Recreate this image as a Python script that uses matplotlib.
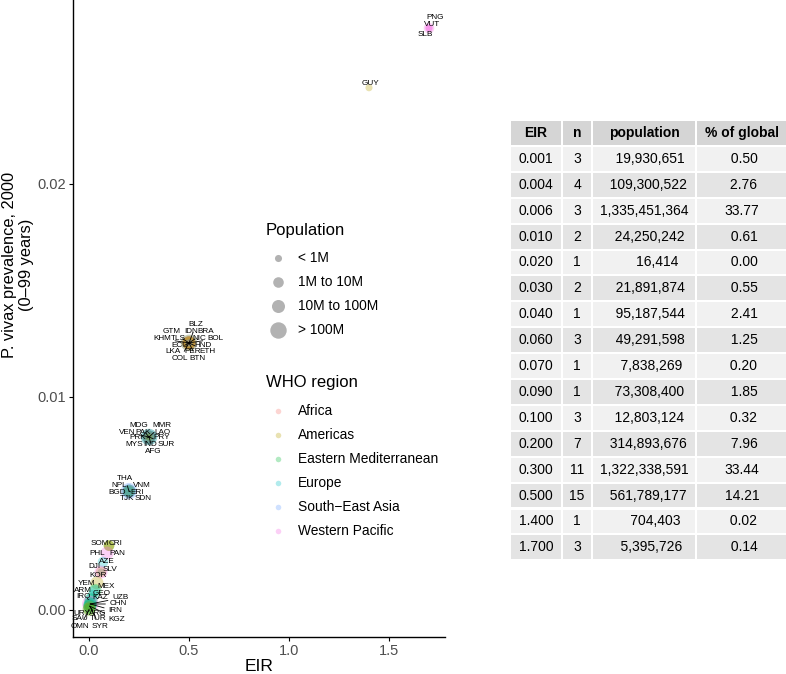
import numpy as np
import matplotlib
matplotlib.use("Agg")
import matplotlib.pyplot as plt
from matplotlib.patches import Rectangle

plt.rcParams['font.family'] = ['Liberation Sans', 'DejaVu Sans']

# --- scatter data: one entry per country ---
iso = ['PNG', 'VUT', 'SLB', 'GUY',
       'BLZ', 'GTM', 'IDN', 'BRA', 'KHM', 'TLS', 'NIC', 'BOL', 'ECU', 'HND', 'LKA', 'PER', 'ETH', 'COL', 'BTN',
       'MDG', 'MMR', 'VEN', 'PAK', 'LAO', 'PRK', 'PRY', 'MYS', 'IND', 'SUR', 'AFG',
       'THA', 'NPL', 'VNM', 'BGD', 'ERI', 'TJK', 'SDN',
       'SOM', 'CRI', 'PAN', 'PHL', 'AZE', 'DJI', 'SLV', 'KOR', 'MEX', 'YEM', 'ARM', 'GEO',
       'IRQ', 'KAZ', 'CHN', 'IRN', 'UZB', 'TUR', 'SYR', 'KGZ', 'URY', 'SAU', 'OMN', 'ARG']
region = ['WP', 'WP', 'WP', 'AM',
          'AM', 'AM', 'SEA', 'AM', 'WP', 'SEA', 'AM', 'AM', 'AM', 'AM', 'SEA', 'AM', 'AF', 'AM', 'SEA',
          'AF', 'SEA', 'AM', 'EM', 'WP', 'SEA', 'AM', 'WP', 'SEA', 'AM', 'EM',
          'SEA', 'SEA', 'WP', 'SEA', 'AF', 'EU', 'EM',
          'EM', 'AM', 'AM', 'WP', 'EU', 'EM', 'AM', 'WP', 'AM', 'EM', 'EU', 'EU',
          'EM', 'EU', 'WP', 'EM', 'EU', 'EU', 'EM', 'EU', 'AM', 'EM', 'EM', 'AM']
eir = [1.7, 1.7, 1.7, 1.4] + [0.5] * 15 + [0.3] * 11 + [0.2] * 7 + \
      [0.1, 0.1, 0.1, 0.09, 0.07, 0.06, 0.06, 0.06, 0.04, 0.03, 0.03, 0.02,
       0.01, 0.01, 0.006, 0.006, 0.006, 0.004, 0.004, 0.004, 0.004, 0.001, 0.001, 0.001]
prev = [0.0273, 0.0273, 0.0273, 0.0245] + [0.01252] * 15 + [0.0081] * 11 + [0.00556] * 7 + \
       [0.0030, 0.0030, 0.0030, 0.00265, 0.00223, 0.00176, 0.00176, 0.00176, 0.00125, 0.0009, 0.0009, 0.00068,
        0.00045, 0.00045, 0.00026, 0.00026, 0.00026, 0.00016, 0.00016, 0.00016, 0.00016, 0.00002, 0.00002, 0.00002]
pop_class = [1, 0, 0, 0,
             0, 2, 3, 3, 2, 0, 1, 1, 2, 1, 2, 2, 2, 2, 0,
             2, 2, 2, 3, 1, 2, 1, 2, 3, 0, 2,
             2, 2, 2, 3, 1, 1, 2,
             1, 1, 1, 2, 1, 0, 1, 2, 2, 2, 1, 1,
             2, 2, 3, 2, 2, 2, 2, 1, 1, 2, 1, 2]

region_names = ['Africa', 'Americas', 'Eastern Mediterranean', 'Europe', 'South\u2212East Asia', 'Western Pacific']
region_keys = ['AF', 'AM', 'EM', 'EU', 'SEA', 'WP']
region_colors = ['#F8766D', '#B79F00', '#00BA38', '#00BFC4', '#619CFF', '#F564E3']
size_labels = ['< 1M', '1M to 10M', '10M to 100M', '> 100M']

# --- table data ---
tab_eir = [0.001, 0.004, 0.006, 0.010, 0.020, 0.030, 0.040, 0.060, 0.070, 0.090, 0.100, 0.200, 0.300, 0.500, 1.400, 1.700]
tab_n = [3, 4, 3, 2, 1, 2, 1, 3, 1, 1, 3, 7, 11, 15, 1, 3]
tab_pop = [19930651, 109300522, 1335451364, 24250242, 16414, 21891874, 95187544, 49291598,
           7838269, 73308400, 12803124, 314893676, 1322338591, 561789177, 704403, 5395726]
tab_pct = [0.50, 2.76, 33.77, 0.61, 0.00, 0.55, 2.41, 1.25, 0.20, 1.85, 0.32, 7.96, 33.44, 14.21, 0.02, 0.14]

# label placement (pixel offsets from point, image y downwards)
label_off = {
    'PNG': (6, -11), 'VUT': (3, -4), 'SLB': (-4, 6), 'GUY': (1, -4),
    'BLZ': (7, -18), 'GTM': (-17, -11), 'IDN': (2, -11), 'BRA': (17, -11), 'KHM': (-27, -4),
    'TLS': (-11, -4), 'NIC': (10, -4), 'BOL': (26, -4), 'ECU': (-9, 3), 'HND': (14, 3),
    'LKA': (-16, 9), 'PER': (4, 9), 'ETH': (18, 9), 'COL': (-9, 16), 'BTN': (8, 16),
    'MDG': (-10, -12), 'MMR': (13, -12), 'VEN': (-22, -5), 'PAK': (-6, -5), 'LAO': (13, -5),
    'PRK': (-11, 0), 'PRY': (13, 0), 'MYS': (-15, 7), 'IND': (1, 7), 'SUR': (17, 7), 'AFG': (4, 14),
    'THA': (-4, -13), 'NPL': (-10, -6), 'VNM': (13, -6), 'BGD': (-12, 1), 'ERI': (8, 1),
    'TJK': (-2, 7), 'SDN': (14, 7),
    'SOM': (-9, -2), 'CRI': (7, -2), 'PAN': (8, 8), 'PHL': (-10, 0), 'AZE': (4, -1),
    'DJI': (-7, -6), 'SLV': (9, -3), 'KOR': (-3, 3), 'MEX': (9, 4), 'YEM': (-8, -7),
    'ARM': (-12, 0), 'GEO': (9, -2), 'IRQ': (-8, -3), 'KAZ': (9, -2),
    'UZB': (30, -6), 'CHN': (28, 0), 'IRN': (25, 7), 'URY': (-8, 7), 'TUR': (8, 12),
    'KGZ': (27, 13), 'SYR': (10, 20), 'SAU': (-9, 9), 'OMN': (-9, 17), 'ARG': (9, 4),
}

W, H = 786, 674
fig = plt.figure(figsize=(W / 100, H / 100), dpi=100)
ax = fig.add_axes([73 / W, 1 - 637 / H, (445 - 73) / W, 637 / H])

sizes = [26, 58, 88, 140]
cmap = dict(zip(region_keys, region_colors))
ax.scatter(eir, prev, s=[sizes[c] for c in pop_class], c=[cmap[r] for r in region],
           alpha=0.3, linewidths=0, zorder=2)

for k, x, y in zip(iso, eir, prev):
    dx, dy = label_off[k]
    arrow = None
    if np.hypot(dx, dy) > 13:
        arrow = dict(arrowstyle='-', lw=0.6, color='black', shrinkA=1, shrinkB=0)
    ax.annotate(k, (x, y), xytext=(dx, -dy), textcoords='offset pixels',
                ha='center', va='center', fontsize=5.9, arrowprops=arrow, zorder=3)

ax.set_xlim(-0.08, 1.78)
ax.set_ylim(-0.00129, 0.02862)
ax.set_xticks([0.0, 0.5, 1.0, 1.5])
ax.set_xticklabels(['0.0', '0.5', '1.0', '1.5'])
ax.set_yticks([0.0, 0.01, 0.02])
ax.set_yticklabels(['0.00', '0.01', '0.02'])
for s in ['top', 'right']:
    ax.spines[s].set_visible(False)
for s in ['left', 'bottom']:
    ax.spines[s].set_linewidth(1.0)
ax.tick_params(length=3, width=0.8, labelsize=10.5, labelcolor='#4d4d4d', pad=2)
ax.set_xlabel('EIR', fontsize=12.5, labelpad=1)

fig.text(18 / W, 1 - 265 / H, 'P. vivax prevalence, 2000\n(0\u201399 years)', rotation=90,
         ha='center', va='center', multialignment='center', fontsize=11.8, linespacing=1.15)

# overlay for legend and table
ov = fig.add_axes([0, 0, 1, 1])
ov.set_xlim(0, W)
ov.set_ylim(H, 0)
ov.axis('off')

ov.text(266, 230, 'Population', fontsize=12, va='center', ha='left')
for i, lab in enumerate(size_labels):
    y = 258 + i * 24
    ov.scatter([278], [y], s=sizes[i], color='black', alpha=0.3, linewidths=0)
    ov.text(298, y, lab, fontsize=9.9, va='center', ha='left')

ov.text(266, 383, 'WHO region', fontsize=12, va='center', ha='left')
for i, (lab, col) in enumerate(zip(region_names, region_colors)):
    y = 411 + i * 24
    ov.scatter([278], [y], s=16, color=col, alpha=0.3, linewidths=0)
    ov.text(298, y, lab, fontsize=9.9, va='center', ha='left')

# table
cols = [(511, 561), (563, 591), (593, 695), (697, 787)]
header = ['EIR', 'n', 'population', '% of global']
rows = [[f'{e:.3f}', f'{n}', f'{p:>13,}', f'{q:5.2f}'] for e, n, p, q in zip(tab_eir, tab_n, tab_pop, tab_pct)]
y0, rh = 121, 25.9
for r, row in enumerate([header] + rows):
    top = y0 + r * rh
    fill = '#d5d5d5' if r == 0 else ('#f1f1f1' if r % 2 == 1 else '#e4e4e4')
    for (a, b), txt in zip(cols, row):
        ov.add_patch(Rectangle((a, top), b - a, rh - 2, facecolor=fill, edgecolor='none'))
        ov.text((a + b) / 2, top + (rh - 2) / 2, txt, ha='center', va='center', fontsize=10,
                fontweight='bold' if r == 0 else 'normal')

fig.savefig('out.png', dpi=100)
